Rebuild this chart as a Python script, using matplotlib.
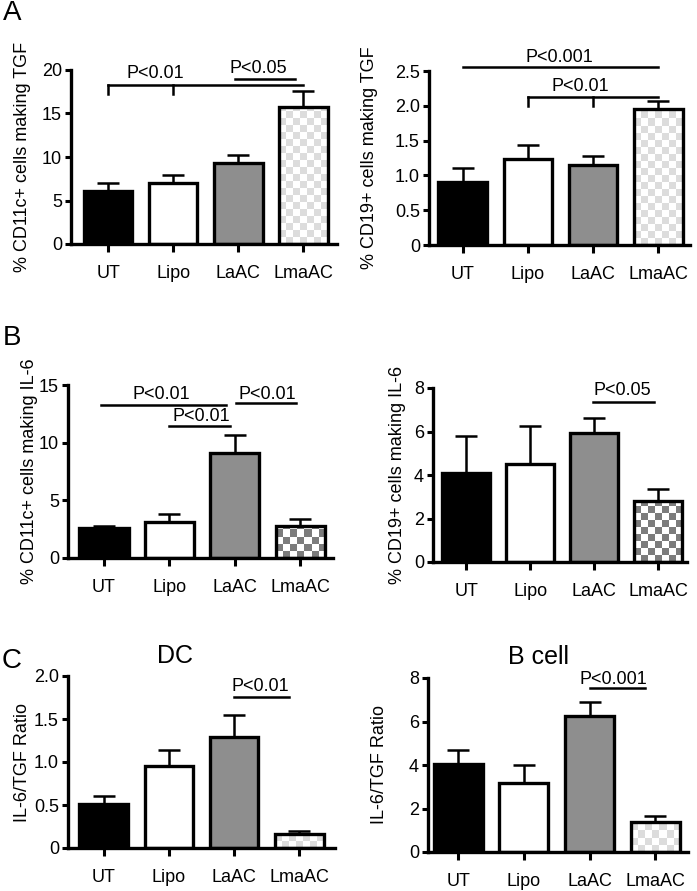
import numpy as np
import matplotlib
matplotlib.use("Agg")
import matplotlib.pyplot as plt
from matplotlib.ticker import FuncFormatter
from matplotlib.colors import ListedColormap

plt.rcParams['font.family'] = ['Liberation Sans', 'DejaVu Sans']

groups = ["UT", "Lipo", "LaAC", "LmaAC"]

# panel A: TGF
dc_tgf = [6.1, 7.0, 9.3, 15.7]
dc_tgf_sem = [0.9, 0.9, 0.9, 1.9]
b_tgf = [0.91, 1.23, 1.15, 1.96]
b_tgf_sem = [0.20, 0.20, 0.13, 0.11]

# panel B: IL-6
dc_il6 = [2.6, 3.15, 9.1, 2.8]
dc_il6_sem = [0.15, 0.65, 1.55, 0.6]
b_il6 = [4.09, 4.5, 5.93, 2.8]
b_il6_sem = [1.69, 1.74, 0.71, 0.57]

# panel C: IL-6/TGF ratio
dc_ratio = [0.51, 0.95, 1.29, 0.16]
dc_ratio_sem = [0.10, 0.19, 0.26, 0.04]
b_ratio = [4.03, 3.17, 6.24, 1.38]
b_ratio_sem = [0.67, 0.83, 0.66, 0.29]

# significance marks: (x_start, x_end, y_line, drop_ticks_at, drop_to, label, text_x, text_y)
sig_dc_tgf = [(0, 3, 18.3, [0, 1], 17.2, "P<0.01", 0.73, 19.6),
              (1.95, 2.87, 19.0, [], None, "P<0.05", 2.31, 20.2)]
sig_b_tgf = [(0, 3, 2.56, [], None, "P<0.001", 1.48, 2.70),
             (1, 3, 2.13, [1, 2], 1.99, "P<0.01", 1.81, 2.28)]
sig_dc_il6 = [(-0.04, 1.87, 13.3, [], None, "P<0.01", 0.87, 14.2),
              (1.0, 1.92, 11.45, [], None, "P<0.01", 1.48, 12.3),
              (2.02, 2.93, 13.4, [], None, "P<0.01", 2.49, 14.2)]
sig_b_il6 = [(1.98, 2.93, 7.36, [], None, "P<0.05", 2.44, 7.9)]
sig_dc_ratio = [(2.0, 2.85, 1.76, [], None, "P<0.01", 2.4, 1.88)]
sig_b_ratio = [(2.0, 2.85, 7.54, [], None, "P<0.001", 2.36, 7.94)]

W, H = 697, 891
fig = plt.figure(figsize=(W / 100, H / 100), dpi=100)


def px_axes(x0, y0, x1, y1):
    return fig.add_axes([x0 / W, 1 - y1 / H, (x1 - x0) / W, (y1 - y0) / H])


def checker(ax, bar, c_dark, cell=7):
    # checkerboard fill clipped to the bar
    inv = ax.transData.inverted()
    x0, y0 = bar.get_x(), bar.get_y()
    x1, y1 = x0 + bar.get_width(), y0 + bar.get_height()
    p0 = ax.transData.transform((x0, y0))
    p1 = ax.transData.transform((x1, y1))
    nx = int(np.ceil((p1[0] - p0[0]) / cell))
    ny = int(np.ceil((p1[1] - p0[1]) / cell))
    ex = inv.transform((p0[0] + nx * cell, p0[1] + ny * cell))
    ii, jj = np.indices((ny, nx))
    board = ((ii + jj) % 2).astype(float)
    cmap = ListedColormap(["white", c_dark])
    im = ax.imshow(board, extent=[x0, ex[0], y0, ex[1]], origin="lower",
                   cmap=cmap, vmin=0, vmax=1, aspect="auto", zorder=1,
                   interpolation="nearest")
    im.set_clip_path(bar)


def panel(box, xlim, vals, sem, ymax, yticks, dec, ylabel, ylab_x, sigs, pattern):
    ax = px_axes(*box)
    x = np.arange(len(groups))
    ax.set_xlim(*xlim)
    ax.set_ylim(0, ymax)
    bars = ax.bar(x, vals, width=0.75, color=["black", "white", "#8e8e8e", "none"],
                  edgecolor="black", linewidth=2.4, zorder=2)
    ax.errorbar(x, vals, yerr=[np.zeros(4), sem], fmt="none", ecolor="black",
                elinewidth=1.8, capsize=8, capthick=1.8, zorder=3, clip_on=False)
    checker(ax, bars[3], pattern)
    ax.set_xlim(*xlim)
    ax.set_ylim(0, ymax)
    ax.set_xticks(x)
    ax.set_xticklabels(groups)
    ax.set_yticks(yticks)
    ax.yaxis.set_major_formatter(FuncFormatter(
        lambda v, p: "0" if v == 0 else ("%.1f" % v if dec else "%d" % v)))
    for s in ["top", "right"]:
        ax.spines[s].set_visible(False)
    for s in ["left", "bottom"]:
        ax.spines[s].set_linewidth(2.4)
    ax.tick_params(axis="x", direction="out", length=6, width=2.2, labelsize=13, pad=9)
    ax.tick_params(axis="y", direction="out", length=4.5, width=2.2, labelsize=13, pad=2)
    ax.set_ylabel(ylabel, fontsize=13)
    ax.yaxis.set_label_coords(ylab_x, 0.5)
    for xs, xe, yl, drops, dy, lab, tx, ty in sigs:
        ax.plot([xs, xe], [yl, yl], color="black", lw=1.8, clip_on=False, zorder=4)
        for d in drops:
            ax.plot([d, d], [yl, dy], color="black", lw=1.8, clip_on=False, zorder=4)
        ax.text(tx, ty, lab, ha="center", va="center", fontsize=13, clip_on=False)
    return ax


light = "#dcdcdc"
dark = "#7c7c7c"

panel((71, 70, 337, 244), (-0.57, 3.52), dc_tgf, dc_tgf_sem, 20, [0, 5, 10, 15, 20], False,
      "% CD11c+ cells making TGF", -0.150, sig_dc_tgf, light)
panel((429, 71, 690, 245), (-0.52, 3.49), b_tgf, b_tgf_sem, 2.5, [0, 0.5, 1.0, 1.5, 2.0, 2.5], True,
      "% CD19+ cells making TGF", -0.195, sig_b_tgf, light)
panel((68, 385, 333, 558), (-0.55, 3.5), dc_il6, dc_il6_sem, 15, [0, 5, 10, 15], False,
      "% CD11c+ cells making IL-6", -0.113, sig_dc_il6, dark)
panel((433, 388, 687, 562), (-0.52, 3.45), b_il6, b_il6_sem, 8, [0, 2, 4, 6, 8], False,
      "% CD19+ cells making IL-6", -0.106, sig_b_il6, dark)
panel((68, 676, 335, 848), (-0.55, 3.55), dc_ratio, dc_ratio_sem, 2.0, [0, 0.5, 1.0, 1.5, 2.0], True,
      "IL-6/TGF Ratio", -0.139, sig_dc_ratio, light)
panel((428, 678, 688, 852), (-0.46, 3.5), b_ratio, b_ratio_sem, 8, [0, 2, 4, 6, 8], False,
      "IL-6/TGF Ratio", -0.154, sig_b_ratio, light)

fig.text(175 / W, 1 - 656 / H, "DC", ha="center", va="center", fontsize=18)
fig.text(538 / W, 1 - 657 / H, "B cell", ha="center", va="center", fontsize=18)

for lab, yy in [("A", 13), ("B", 338), ("C", 661)]:
    fig.text(12 / W, 1 - yy / H, lab, ha="center", va="center", fontsize=20)

fig.savefig("out.png", dpi=100)
